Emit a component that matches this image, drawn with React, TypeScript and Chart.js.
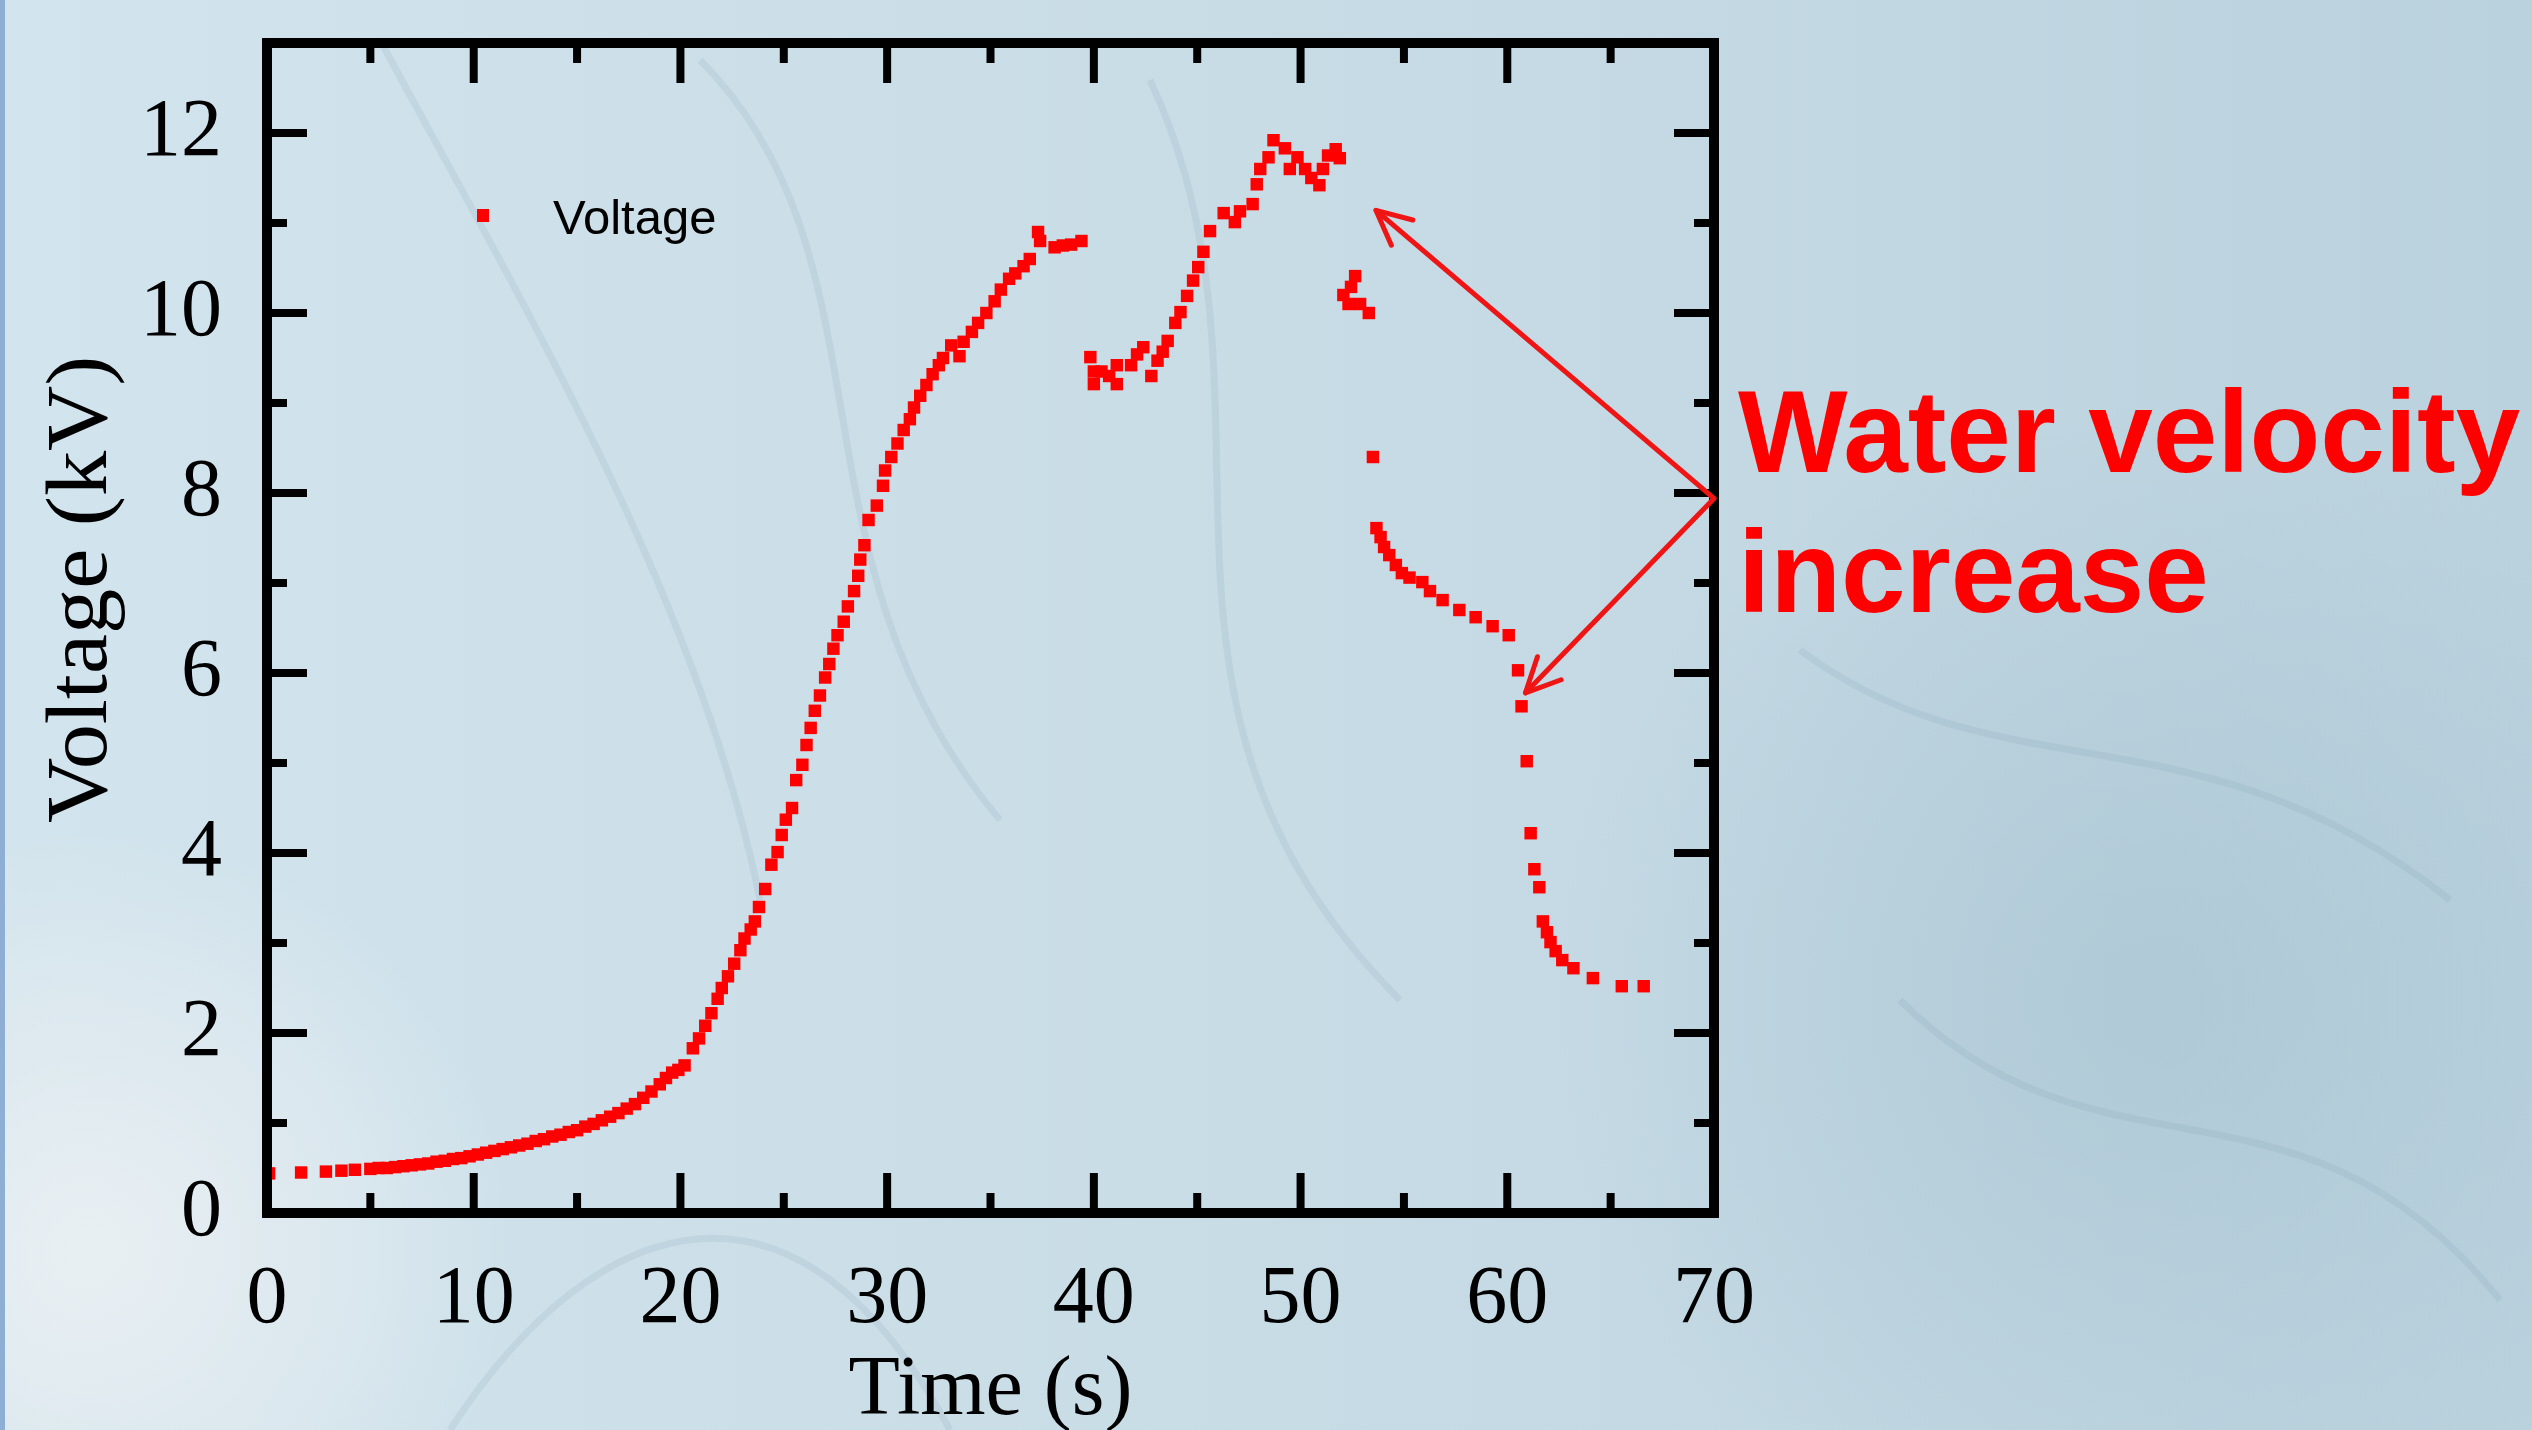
import React, { useEffect, useRef } from "react";
import { Chart, registerables } from "chart.js";

Chart.register(...registerables);

// ---- data ----
const timeS: number[] = [
  // slow rise 0-20 s
  0.1, 1.65, 2.85, 3.6, 4.25, 5.0, 5.4, 5.8, 6.2, 6.6, 7.0, 7.4, 7.8, 8.2, 8.6, 9.0, 9.4, 9.8,
  10.2, 10.6, 11.0, 11.4, 11.8, 12.2, 12.6, 13.0, 13.4, 13.8, 14.2, 14.6, 15.0, 15.4, 15.8,
  16.2, 16.6, 17.0, 17.4, 17.8, 18.2, 18.6, 19.0, 19.3, 19.6, 19.9, 20.2,
  // steep rise 20-39 s
  20.6, 20.9, 21.2, 21.5, 21.8, 22.0, 22.3, 22.6, 22.9, 23.1, 23.4, 23.6, 23.8, 24.1, 24.4,
  24.7, 24.9, 25.1, 25.4, 25.6, 25.9, 26.1, 26.3, 26.5, 26.75, 27.0, 27.2, 27.4, 27.6, 27.9,
  28.1, 28.4, 28.6, 28.7, 28.9, 29.1, 29.5, 29.8, 29.9, 30.2, 30.5, 30.8, 31.1, 31.3, 31.6,
  31.9, 32.2, 32.5, 32.7, 33.1, 33.5, 33.7, 34.1, 34.4, 34.8, 35.2, 35.5, 35.9, 36.2, 36.6,
  36.9, 37.3, 37.4, 38.1, 38.5, 38.9, 39.4,
  // second group 40-52 s
  39.83, 40.0, 40.0, 40.37, 40.74, 41.11, 41.11, 41.8, 42.09, 42.39, 42.78, 43.08, 43.33,
  43.57, 43.94, 44.19, 44.51, 44.8, 45.05, 45.3, 45.62, 46.28, 46.82, 47.07, 47.68, 47.88,
  48.05, 48.45, 48.69, 49.24, 49.48, 49.85, 50.22, 50.52, 50.91, 51.08, 51.33, 51.7, 51.9,
  // third group 52-67 s
  52.64, 52.44, 52.07, 52.32, 52.88, 53.3, 53.5, 53.67, 53.87, 54.04, 54.29, 54.61, 54.9,
  55.27, 55.89, 56.26, 56.87, 57.68, 58.47, 59.29, 60.07, 60.52, 60.69, 60.94, 61.13, 61.31,
  61.55, 61.72, 61.92, 62.09, 62.34, 62.66, 63.2, 64.14, 65.54, 66.6,
];

const voltageKV: number[] = [
  0.44, 0.45, 0.46, 0.47, 0.48, 0.49, 0.5, 0.5, 0.51, 0.52, 0.53, 0.54, 0.55, 0.57, 0.58, 0.6, 0.61, 0.63,
  0.65, 0.67, 0.69, 0.71, 0.73, 0.75, 0.77, 0.8, 0.82, 0.85, 0.87, 0.9, 0.92, 0.96, 0.99,
  1.03, 1.07, 1.11, 1.16, 1.21, 1.28, 1.35, 1.43, 1.5, 1.56, 1.59, 1.64,
  1.83, 1.94, 2.08, 2.22, 2.38, 2.5, 2.63, 2.77, 2.92, 3.05, 3.15, 3.24, 3.4, 3.6, 3.87,
  4.01, 4.2, 4.37, 4.5, 4.81, 4.98, 5.2, 5.39, 5.58, 5.75, 5.95, 6.1, 6.27, 6.42, 6.57,
  6.74, 6.91, 7.08, 7.26, 7.42, 7.7, 7.86, 8.08, 8.25, 8.4, 8.55, 8.7, 8.82, 8.95, 9.08,
  9.2, 9.32, 9.42, 9.5, 9.64, 9.52, 9.68, 9.79, 9.89, 10.0, 10.13, 10.26, 10.38, 10.44, 10.52,
  10.6, 10.9, 10.8, 10.73, 10.75, 10.76, 10.8,
  9.51, 9.35, 9.21, 9.35, 9.3, 9.21, 9.42, 9.42, 9.54, 9.62, 9.3, 9.47, 9.57,
  9.69, 9.89, 10.01, 10.19, 10.36, 10.51, 10.68, 10.91, 11.11, 11.01, 11.13, 11.21, 11.43,
  11.6, 11.73, 11.92, 11.83, 11.6, 11.73, 11.6, 11.5, 11.42, 11.6, 11.75, 11.82, 11.72,
  10.41, 10.29, 10.2, 10.1, 10.1, 10.0, 8.4, 7.61, 7.51, 7.4, 7.31, 7.2, 7.11,
  7.06, 7.01, 6.91, 6.81, 6.7, 6.62, 6.52, 6.42, 6.03, 5.63, 5.02, 4.22, 3.82,
  3.62, 3.24, 3.12, 3.01, 2.91, 2.81, 2.72, 2.61, 2.52, 2.52,
];

const xTickValues: number[] = [0, 10, 20, 30, 40, 50, 60, 70];
const yTickValues: number[] = [0, 2, 4, 6, 8, 10, 12];
const xMinorStep = 5;
const yMinorStep = 1;
const seriesLabel = "Voltage";
const xTitle = "Time (s)";
const yTitle = "Voltage (kV)";
const annotationLines: string[] = ["Water velocity", "increase"];
const arrowOrigin = { x: 70, y: 7.94 };
const arrowTips = [
  { x: 53.65, y: 11.14 },
  { x: 60.88, y: 5.78 },
];

const SERIF = '"Liberation Serif", "Times New Roman", serif';
const SANS = '"Liberation Sans", Arial, sans-serif';
const RED = "#ff0000";

const backgroundPlugin = {
  id: "slideBackground",
  beforeDraw(chart: any) {
    const { ctx, width, height } = chart;
    ctx.save();
    const g = ctx.createLinearGradient(0, 0, width, 0);
    g.addColorStop(0, "#d2e4ed");
    g.addColorStop(0.5, "#c8dce6");
    g.addColorStop(1, "#bad2de");
    ctx.fillStyle = g;
    ctx.fillRect(0, 0, width, height);
    // lighter patch bottom-left
    const r = ctx.createRadialGradient(90, 1250, 20, 90, 1250, 420);
    r.addColorStop(0, "rgba(236,241,244,0.85)");
    r.addColorStop(0.6, "rgba(230,237,241,0.5)");
    r.addColorStop(1, "rgba(230,237,241,0)");
    ctx.fillStyle = r;
    ctx.fillRect(0, 800, 560, height - 800);
    // darker texture on right side
    const r2 = ctx.createRadialGradient(2150, 1000, 50, 2150, 1000, 600);
    r2.addColorStop(0, "rgba(150,182,198,0.35)");
    r2.addColorStop(1, "rgba(150,182,198,0)");
    ctx.fillStyle = r2;
    ctx.fillRect(1500, 400, width - 1500, height - 400);
    // faint decorative strokes
    ctx.strokeStyle = "rgba(120,152,170,0.14)";
    ctx.lineWidth = 7;
    const curves: number[][] = [
      [380, 40, 520, 300, 700, 600, 760, 900],
      [700, 60, 900, 260, 780, 560, 1000, 820],
      [1150, 80, 1300, 400, 1100, 700, 1400, 1000],
      [1800, 650, 2000, 800, 2200, 700, 2450, 900],
      [1900, 1000, 2100, 1200, 2300, 1050, 2500, 1300],
      [450, 1430, 600, 1200, 800, 1150, 950, 1430],
    ];
    for (const c of curves) {
      ctx.beginPath();
      ctx.moveTo(c[0], c[1]);
      ctx.bezierCurveTo(c[2], c[3], c[4], c[5], c[6], c[7]);
      ctx.stroke();
    }
    // blue strip at left edge
    ctx.fillStyle = "#8eaed3";
    ctx.fillRect(0, 0, 5, height);
    ctx.restore();
  },
};

const framePlugin = {
  id: "originFrame",
  afterDatasetsDraw(chart: any) {
    const { ctx, chartArea: a, scales } = chart;
    const xs = scales.x;
    const ys = scales.y;
    ctx.save();
    ctx.strokeStyle = "#000";
    ctx.lineWidth = 10;
    ctx.lineJoin = "miter";
    ctx.strokeRect(a.left, a.top, a.right - a.left, a.bottom - a.top);
    ctx.lineWidth = 8;
    ctx.lineCap = "butt";
    const seg = (x1: number, y1: number, x2: number, y2: number) => {
      ctx.beginPath();
      ctx.moveTo(x1, y1);
      ctx.lineTo(x2, y2);
      ctx.stroke();
    };
    for (let v = xs.min; v <= xs.max + 1e-9; v += xMinorStep) {
      const px = xs.getPixelForValue(v);
      const len = xTickValues.includes(v) ? 40 : 20;
      seg(px, a.bottom, px, a.bottom - len);
      seg(px, a.top, px, a.top + len);
    }
    for (let v = ys.min; v <= ys.max + 1e-9; v += yMinorStep) {
      const py = ys.getPixelForValue(v);
      const len = yTickValues.includes(v) ? 40 : 20;
      seg(a.left, py, a.left + len, py);
      seg(a.right, py, a.right - len, py);
    }
    ctx.restore();
  },
};

const legendPlugin = {
  id: "insideLegend",
  afterDraw(chart: any) {
    const { ctx, chartArea: a } = chart;
    const ds = chart.data.datasets[0];
    const cx = a.left + 216;
    const cy = a.top + 172;
    ctx.save();
    ctx.fillStyle = ds.backgroundColor;
    ctx.fillRect(cx - 6, cy - 6, 12, 13);
    ctx.fillStyle = "#000";
    ctx.font = `49px ${SANS}`;
    ctx.textAlign = "left";
    ctx.textBaseline = "alphabetic";
    ctx.fillText(ds.label, cx + 70, cy + 19);
    ctx.restore();
  },
};

const yTitlePlugin = {
  id: "yAxisTitle",
  afterDraw(chart: any) {
    const { ctx, scales } = chart;
    const ys = scales.y;
    ctx.save();
    ctx.translate(ys.left + 83, ys.getPixelForValue(6.93));
    ctx.rotate(-Math.PI / 2);
    ctx.scale(1.05, 1);
    ctx.fillStyle = "#000";
    ctx.font = `86px ${SERIF}`;
    ctx.textAlign = "center";
    ctx.textBaseline = "middle";
    ctx.fillText(yTitle, 0, 0);
    ctx.restore();
  },
};

const annotationPlugin = {
  id: "velocityNote",
  afterDraw(chart: any) {
    const { ctx, chartArea: a, scales } = chart;
    const xs = scales.x;
    const ys = scales.y;
    ctx.save();
    ctx.strokeStyle = "#f01515";
    ctx.lineWidth = 5;
    ctx.lineCap = "round";
    ctx.lineJoin = "round";
    const ox = xs.getPixelForValue(arrowOrigin.x);
    const oy = ys.getPixelForValue(arrowOrigin.y);
    for (const tip of arrowTips) {
      const tx = xs.getPixelForValue(tip.x);
      const ty = ys.getPixelForValue(tip.y);
      ctx.beginPath();
      ctx.moveTo(ox, oy);
      ctx.lineTo(tx, ty);
      ctx.stroke();
      const ang = Math.atan2(oy - ty, ox - tx);
      const hl = 38;
      const spread = 0.45;
      ctx.beginPath();
      ctx.moveTo(tx + hl * Math.cos(ang + spread), ty + hl * Math.sin(ang + spread));
      ctx.lineTo(tx, ty);
      ctx.lineTo(tx + hl * Math.cos(ang - spread), ty + hl * Math.sin(ang - spread));
      ctx.stroke();
    }
    ctx.fillStyle = RED;
    ctx.font = `bold 116px ${SANS}`;
    ctx.textAlign = "left";
    ctx.textBaseline = "alphabetic";
    ctx.fillText(annotationLines[0], a.right + 24, a.top + 429);
    ctx.fillText(annotationLines[1], a.right + 24, a.top + 569);
    ctx.restore();
  },
};

export default function App() {
  const canvasRef = useRef<HTMLCanvasElement | null>(null);

  useEffect(() => {
    const canvas = canvasRef.current;
    if (!canvas) return;
    const points = timeS.map((t, i) => ({ x: t, y: voltageKV[i] }));
    const chart = new Chart(canvas, {
      type: "scatter",
      data: {
        datasets: [
          {
            label: seriesLabel,
            data: points,
            backgroundColor: RED,
            borderColor: RED,
            pointStyle: "rect",
            pointRadius: 8.8,
            pointHoverRadius: 8.8,
            pointBorderWidth: 0,
            showLine: false,
          },
        ],
      },
      options: {
        responsive: false,
        animation: false,
        devicePixelRatio: 1,
        events: [],
        layout: { padding: { left: 0, top: 43, right: 818, bottom: 0 } },
        plugins: {
          legend: { display: false },
          tooltip: { enabled: false },
        },
        scales: {
          x: {
            type: "linear",
            min: 0,
            max: 70,
            afterBuildTicks: (s: any) => {
              s.ticks = xTickValues.map((v) => ({ value: v }));
            },
            afterFit: (s: any) => {
              s.height = 217;
              s.paddingLeft = 0;
              s.paddingRight = 0;
            },
            grid: { display: false, drawTicks: false },
            border: { display: false },
            ticks: {
              padding: 38,
              color: "#000",
              autoSkip: false,
              maxRotation: 0,
              font: { family: SERIF, size: 82 },
            },
            title: {
              display: true,
              text: xTitle,
              color: "#000",
              font: { family: SERIF, size: 84, lineHeight: 0.8 },
              padding: { top: 0, bottom: 4 },
            },
          },
          y: {
            type: "linear",
            min: 0,
            max: 13,
            afterBuildTicks: (s: any) => {
              s.ticks = yTickValues.map((v) => ({ value: v }));
            },
            afterFit: (s: any) => {
              s.width = 267;
              s.paddingTop = 0;
              s.paddingBottom = 0;
            },
            grid: { display: false, drawTicks: false },
            border: { display: false },
            ticks: {
              padding: 45,
              color: "#000",
              autoSkip: false,
              font: { family: SERIF, size: 82 },
            },
          },
        },
      },
      plugins: [backgroundPlugin, framePlugin, legendPlugin, yTitlePlugin, annotationPlugin],
    } as any);
    return () => chart.destroy();
  }, []);

  return (
    <canvas
      ref={canvasRef}
      width={2532}
      height={1430}
      style={{ position: "fixed", left: 0, top: 0, width: 2532, height: 1430, display: "block" }}
    />
  );
}
